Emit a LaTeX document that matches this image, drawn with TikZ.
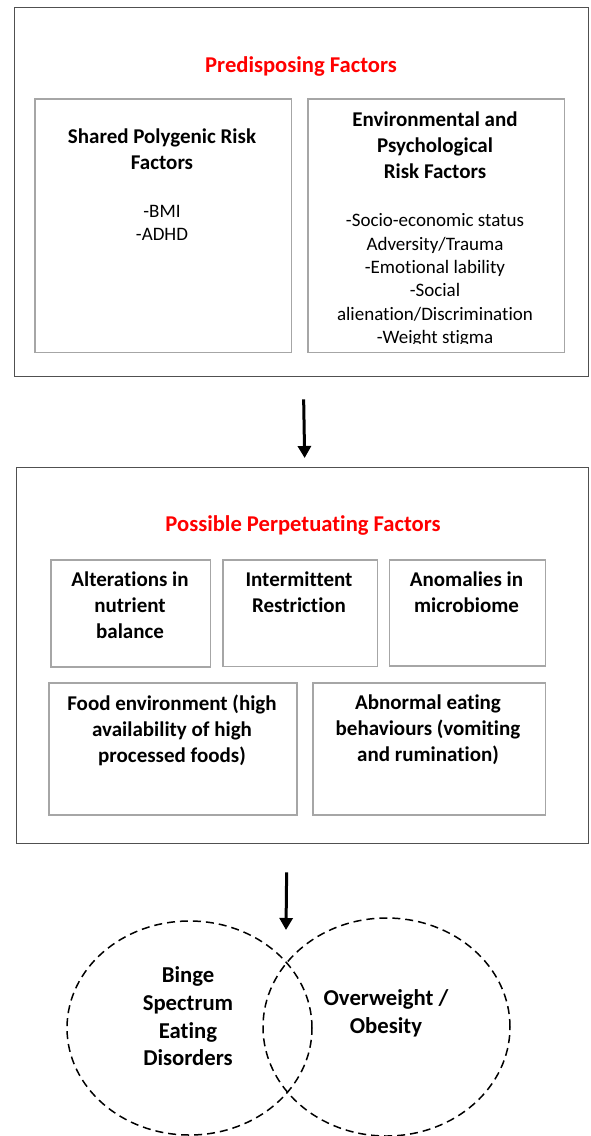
\documentclass[tikz,border=0pt]{standalone}
\usepackage{fontspec}
\setmainfont{Carlito}[Ligatures=NoCommon]
\usetikzlibrary{arrows.meta,shapes.geometric}
\definecolor{outerc}{HTML}{505050}
\definecolor{innerc}{HTML}{A6A6A6}
\definecolor{titlered}{HTML}{FF0000}
\tikzset{
  outerbox/.style={draw=outerc, line width=1.3pt, inner sep=0pt, anchor=north west},
  innerbox/.style={draw=innerc, line width=1.8pt, inner sep=0pt, anchor=north west},
  redtitle/.style={text=titlered, font=\fontsize{22.6}{27}\selectfont\bfseries, inner sep=0pt, anchor=base},
  head/.style={font=\fontsize{21}{26}\selectfont\bfseries, align=center, inner sep=0pt, anchor=north},
  body/.style={font=\fontsize{19}{23.4}\selectfont, align=center, inner sep=0pt, anchor=north},
  venntext/.style={font=\fontsize{22.7}{27.7}\selectfont\bfseries, align=center, inner sep=0pt, anchor=north},
  venn/.style={ellipse, draw=black, line width=1.5pt, dash pattern=on 8pt off 5pt, inner sep=0pt},
  arr/.style={-{Triangle[length=12pt,width=13pt]}, line width=3pt, black}
}
\begin{document}
\begin{tikzpicture}[x=1pt,y=-1pt]
\path[fill=white,use as bounding box] (0,0) rectangle (590,1136);

% ---------- Predisposing factors ----------
\node[outerbox, minimum width=574pt, minimum height=369pt] (pre) at (14,7) {};
\node[redtitle] (pretitle) at (301,72) {Predisposing Factors};
\node[innerbox, minimum width=256.5pt, minimum height=253.5pt] (gen) at (34,98) {};
\node[innerbox, minimum width=256.5pt, minimum height=253.5pt] (env) at (307,98) {};
\node[head] (genhead) at (162,129) {Shared Polygenic Risk\\Factors};
\node[body] (genbody) at (162,205) {-BMI\\-ADHD};
\node[head] (envhead) at (435,112) {Environmental and\\Psychological\\Risk Factors};
\begin{scope}
  \clip (307,98) rectangle (563.5,343);
  \node[body] (envbody) at (435,213.5) {-Socio-economic status\\Adversity/Trauma\\-Emotional lability\\-Social\\alienation/Discrimination\\-Weight stigma};
\end{scope}

% ---------- Perpetuating factors ----------
\node[outerbox, minimum width=572pt, minimum height=376pt] (per) at (16,467) {};
\node[redtitle] (pertitle) at (303,531) {Possible Perpetuating Factors};
\node[innerbox, minimum width=159.5pt, minimum height=107pt] (nut) at (50,559) {};
\node[innerbox, minimum width=154.5pt, minimum height=106.5pt] (res) at (222,559) {};
\node[innerbox, minimum width=156pt, minimum height=106pt] (mic) at (388.5,559) {};
\node[innerbox, minimum width=248pt, minimum height=132pt] (food) at (48,682) {};
\node[innerbox, minimum width=232.5pt, minimum height=132pt] (abn) at (312,682) {};
\node[head] (nuttext) at (130,572) {Alterations in\\nutrient\\balance};
\node[head] (restext) at (299,572) {Intermittent\\Restriction};
\node[head] (mictext) at (466.5,572) {Anomalies in\\microbiome};
\node[head] (foodtext) at (172,694.5) {Food environment (high\\availability of high\\processed foods)};
\node[head] (abntext) at (428,694.5) {Abnormal eating\\behaviours (vomiting\\and rumination)};

% ---------- Outcomes ----------
\node[venn, minimum width=245pt, minimum height=214pt] (bsed) at (189.5,1028) {};
\node[venn, minimum width=247pt, minimum height=218pt] (obes) at (386.5,1027) {};
\node[venntext] (bsedtext) at (188,966.5) {Binge\\Spectrum\\Eating\\Disorders};
\node[venntext] (obestext) at (386,989.5) {Overweight /\\Obesity};
\coordinate (vtop) at (286,930);

% ---------- Arrows ----------
\draw[arr] ([xshift=2pt,yshift=-22pt]pre.south) -- ([xshift=2pt,yshift=9pt]per.north);
\draw[arr] ([xshift=-16pt,yshift=-28pt]per.south) -- (vtop);
\end{tikzpicture}
\end{document}
